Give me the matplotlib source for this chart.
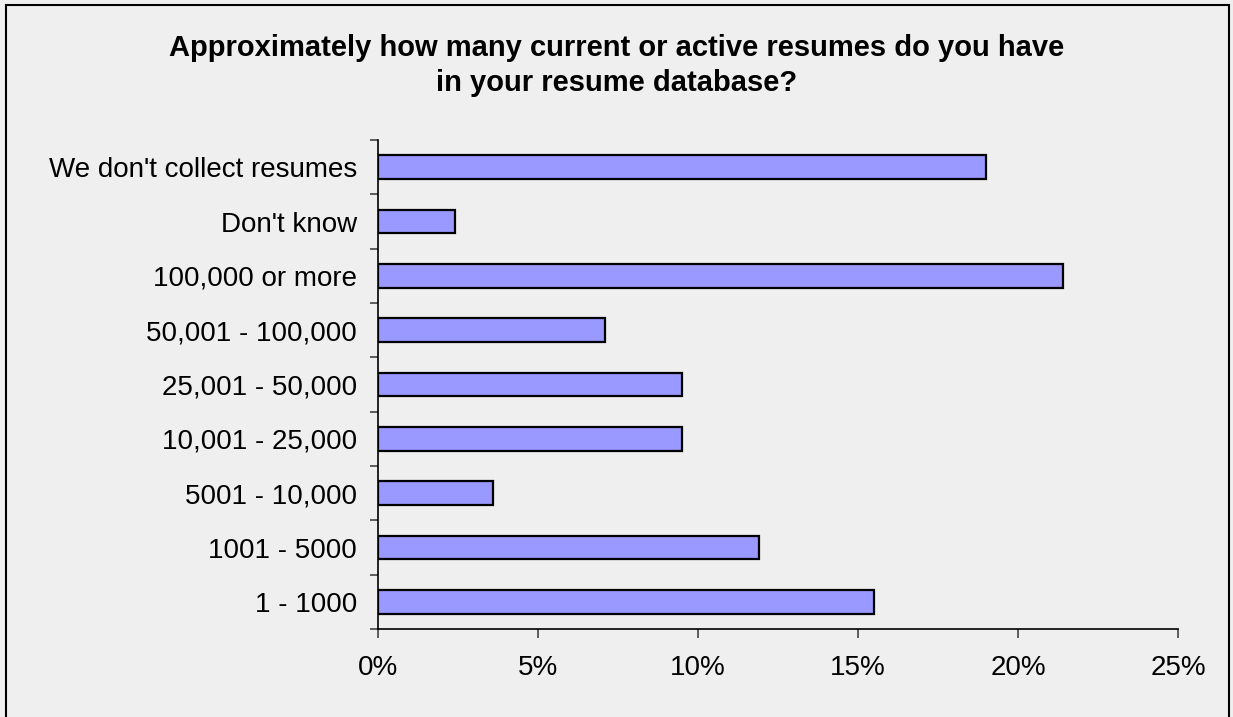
import matplotlib
matplotlib.use("Agg")
import matplotlib.pyplot as plt
from matplotlib.patches import Rectangle
from matplotlib.ticker import FuncFormatter, FixedLocator
import numpy as np


categories = [
    "1 - 1000",
    "1001 - 5000",
    "5001 - 10,000",
    "10,001 - 25,000",
    "25,001 - 50,000",
    "50,001 - 100,000",
    "100,000 or more",
    "Don't know",
    "We don't collect resumes",
]
values = [15.5, 11.9, 3.6, 9.5, 9.5, 7.1, 21.4, 2.4, 19.0]
x_ticks = [0, 5, 10, 15, 20, 25]
title = "Approximately how many current or active resumes do you have\nin your resume database?"


def main():
    plt.rcParams["font.family"] = ["Liberation Sans", "DejaVu Sans"]
    bg = "#efefef"
    fig = plt.figure(figsize=(12.33, 7.17), dpi=100, facecolor=bg)
    ax = fig.add_axes([0.3066, 0.1227, 0.6488, 0.6820])
    ax.set_facecolor(bg)

    y = np.arange(len(categories))
    ax.barh(y, values, height=0.44, color="#9999ff", edgecolor="black", linewidth=1.6)

    ax.set_xlim(0, 25)
    ax.set_ylim(-0.5, len(categories) - 0.5)
    ax.set_xticks(x_ticks)
    ax.xaxis.set_major_formatter(FuncFormatter(lambda v, p: f"{v:.0f}%"))
    ax.set_yticks(y)
    ax.set_yticklabels(categories)
    ax.yaxis.set_minor_locator(FixedLocator(np.arange(-0.5, len(categories), 1.0)))

    ax.tick_params(axis="y", which="major", length=0, pad=15, labelsize=20)
    ax.tick_params(axis="y", which="minor", length=6, width=1.2, color="#444444")
    ax.tick_params(axis="x", which="major", length=6.5, width=1.2, color="#444444",
                   pad=12, labelsize=20)

    for s in ["top", "right"]:
        ax.spines[s].set_visible(False)
    for s in ["left", "bottom"]:
        ax.spines[s].set_linewidth(1.2)
        ax.spines[s].set_color("black")

    fig.text(0.5, 0.909, title, ha="center", va="center", fontsize=21,
             fontweight="bold", linespacing=1.3)

    # 外枠
    fig.patches.append(Rectangle((0.005, -0.01), 0.992, 1.003, transform=fig.transFigure,
                                 fill=False, edgecolor="black", linewidth=1.5))

    fig.savefig("out.png", dpi=100, facecolor=bg)
    plt.close(fig)
    return None


if __name__ == "__main__":
    main()
